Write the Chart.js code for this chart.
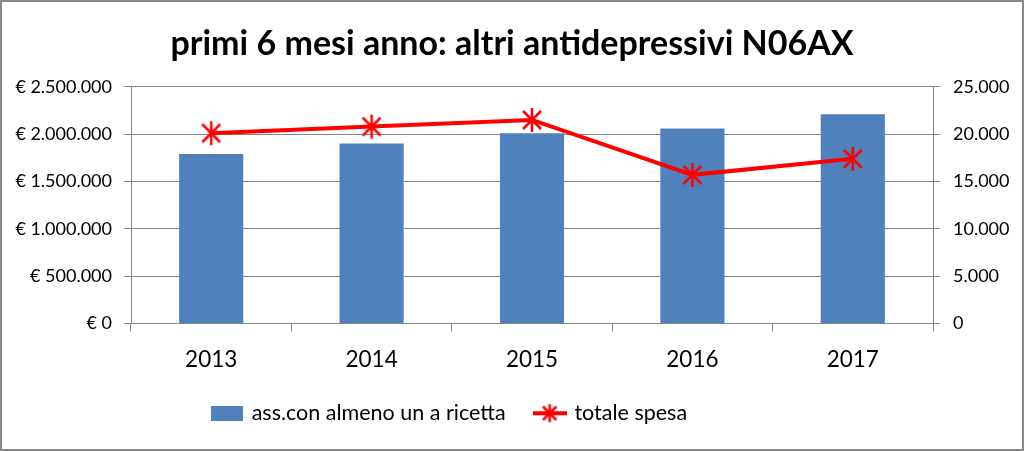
<!DOCTYPE html>
<html>
<head>
<meta charset="utf-8">
<script src="https://cdn.jsdelivr.net/npm/chart.js@4"></script>
<style>
  body { margin: 0; background: #fff; }
  #wrap { width: 1024px; height: 451px; box-sizing: border-box; border: 2px solid #868686; }
  canvas { display: block; }
</style>
</head>
<body>
<div id="wrap"><canvas id="chartCombo" width="1020" height="447"></canvas></div>
<script>
const anni = ["2013", "2014", "2015", "2016", "2017"];
const assistiti = [17900, 19000, 20100, 20600, 22100];
const spesa = [2010000, 2080000, 2150000, 1570000, 1740000];

const blu = "#4F81BD";
const rosso = "#FF0000";
const grigio = "#868686";

function puntini(n) {
  return String(n).replace(/\B(?=(\d{3})+(?!\d))/g, ".");
}

// asterisco come nel grafico excel
function disegnaStella(ctx, cx, cy, r) {
  ctx.strokeStyle = rosso;
  ctx.lineWidth = 2.5;
  ctx.beginPath();
  ctx.moveTo(cx, cy - r); ctx.lineTo(cx, cy + r);
  ctx.moveTo(cx - r * 0.75, cy - r * 0.75); ctx.lineTo(cx + r * 0.75, cy + r * 0.75);
  ctx.moveTo(cx + r * 0.75, cy - r * 0.75); ctx.lineTo(cx - r * 0.75, cy + r * 0.75);
  ctx.stroke();
}

const stella = document.createElement("canvas");
stella.width = 26; stella.height = 26;
disegnaStella(stella.getContext("2d"), 13, 13, 12);

const legLinea = document.createElement("canvas");
legLinea.width = 34; legLinea.height = 26;
(function () {
  const c = legLinea.getContext("2d");
  c.strokeStyle = rosso; c.lineWidth = 4;
  c.beginPath(); c.moveTo(0, 13); c.lineTo(34, 13); c.stroke();
  disegnaStella(c, 17, 13, 9);
})();

const legBarra = document.createElement("canvas");
legBarra.width = 32; legBarra.height = 15;
(function () {
  const c = legBarra.getContext("2d");
  c.fillStyle = blu; c.fillRect(0, 0, 32, 15);
})();

// sposta la legenda un po' a sinistra come nell'originale
const spostaLegenda = {
  id: "spostaLegenda",
  afterLayout(chart) {
    chart.legend.left -= 62;
    chart.legend.right -= 62;
  }
};

const chartCombo = new Chart("chartCombo", {
  data: {
    labels: anni,
    datasets: [
      {
        type: "bar",
        label: "ass.con almeno un a ricetta",
        data: assistiti,
        backgroundColor: blu,
        yAxisID: "y1",
        barPercentage: 0.4,
        categoryPercentage: 1,
        order: 1,
      },
      {
        type: "line",
        label: "totale spesa",
        data: spesa,
        borderColor: rosso,
        borderWidth: 4,
        pointStyle: stella,
        pointRadius: 12,
        yAxisID: "y",
        order: 0,
      },
    ],
  },
  options: {
    responsive: false,
    animation: false,
    layout: { padding: { left: 0, right: 0, top: 0, bottom: 15 } },
    plugins: {
      title: {
        display: true,
        text: "primi 6 mesi anno: altri antidepressivi N06AX",
        color: "#000",
        font: { family: "Lato", size: 34, weight: "bold" },
        padding: { top: 22, bottom: 22 },
      },
      legend: {
        position: "bottom",
        labels: {
          color: "#000",
          font: { family: "Lato", size: 21.5 },
          usePointStyle: true,
          pointStyleWidth: 28,
          padding: 30,
          generateLabels() {
            return [
              { text: "ass.con almeno un a ricetta", pointStyle: legBarra, datasetIndex: 0, lineWidth: 0 },
              { text: "totale spesa", pointStyle: legLinea, datasetIndex: 1, lineWidth: 0 },
            ];
          },
        },
      },
      tooltip: { enabled: false },
    },
    scales: {
      x: {
        grid: { drawOnChartArea: false, tickLength: 8, color: grigio, offset: true },
        border: { color: grigio },
        ticks: { color: "#000", font: { family: "Lato", size: 22.5 }, padding: 15 },
        afterFit(scale) { scale.height = 49; },
      },
      y: {
        position: "left",
        min: 0,
        max: 2500000,
        ticks: {
          stepSize: 500000,
          color: "#000",
          font: { family: "Lato", size: 18 },
          padding: 12,
          callback: (v) => "€ " + puntini(v),
        },
        grid: { color: grigio, tickLength: 7 },
        border: { color: grigio },
        afterFit(scale) { scale.width = 129; },
      },
      y1: {
        position: "right",
        min: 0,
        max: 25000,
        ticks: {
          stepSize: 5000,
          color: "#000",
          font: { family: "Lato", size: 18 },
          padding: 13,
          callback: (v) => puntini(v),
        },
        grid: { drawOnChartArea: false, color: grigio, tickLength: 7 },
        border: { color: grigio },
        afterFit(scale) { scale.width = 89; },
      },
    },
  },
  plugins: [spostaLegenda],
});
</script>
</body>
</html>
